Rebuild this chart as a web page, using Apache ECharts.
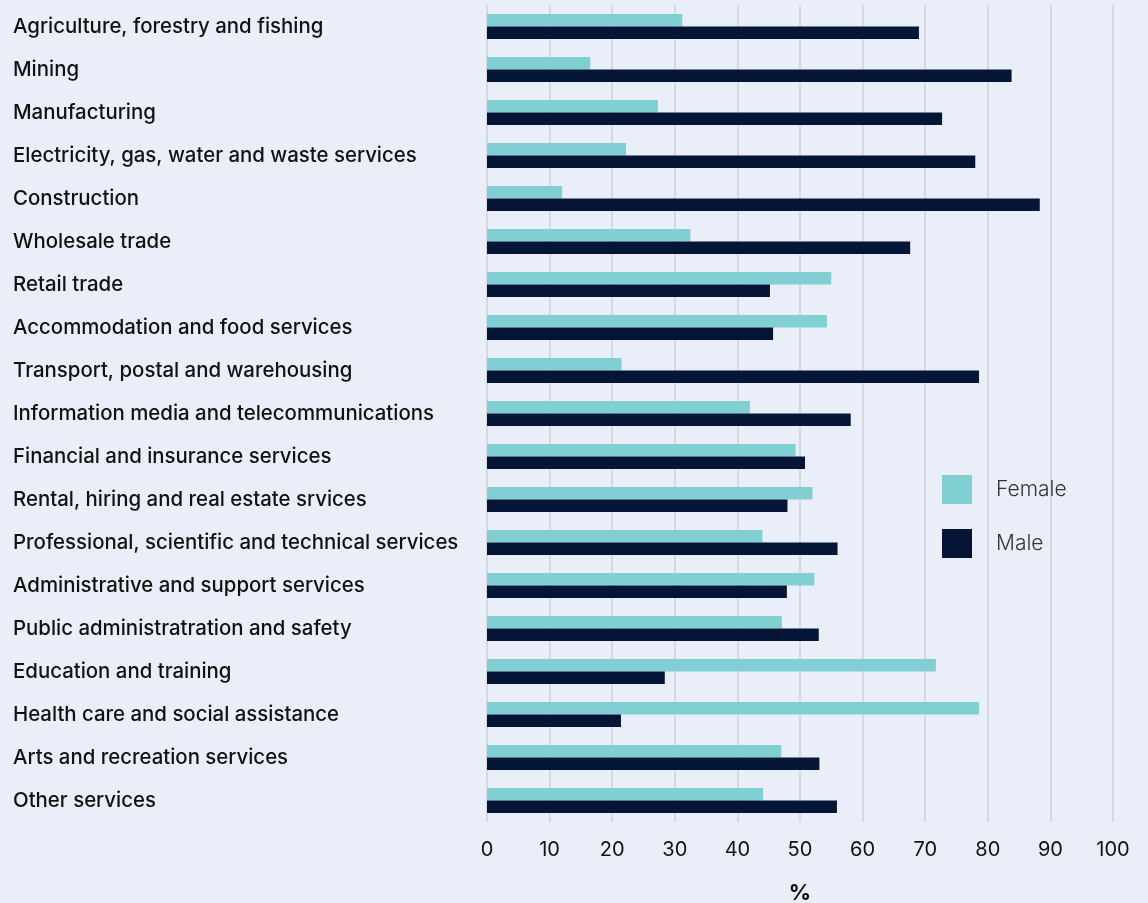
<!DOCTYPE html>
<html>
<head>
<meta charset="utf-8">
<script src="https://cdn.jsdelivr.net/npm/echarts@6/dist/echarts.min.js"></script>
<style>
html,body{margin:0;padding:0;background:#eaeef8;}
#chart{width:1148px;height:903px;}
</style>
</head>
<body>
<div id="chart"></div>
<script>
const categories = [
  "Agriculture, forestry and fishing",
  "Mining",
  "Manufacturing",
  "Electricity, gas, water and waste services",
  "Construction",
  "Wholesale trade",
  "Retail trade",
  "Accommodation and food services",
  "Transport, postal and warehousing",
  "Information media and telecommunications",
  "Financial and insurance services",
  "Rental, hiring and real estate srvices",
  "Professional, scientific and technical services",
  "Administrative and support services",
  "Public administratration and safety",
  "Education and training",
  "Health care and social assistance",
  "Arts and recreation services",
  "Other services"
];
const female = [31.2, 16.5, 27.3, 22.2, 12.0, 32.5, 55.0, 54.3, 21.5, 42.0, 49.3, 52.0, 44.0, 52.3, 47.1, 71.7, 78.6, 47.0, 44.1];
const male   = [69.0, 83.8, 72.7, 78.0, 88.3, 67.6, 45.2, 45.7, 78.6, 58.1, 50.8, 48.0, 56.0, 47.9, 53.0, 28.4, 21.4, 53.1, 55.9];
const xTicks = [0, 10, 20, 30, 40, 50, 60, 70, 80, 90, 100];

const FONT = 'Inter';
const chart = echarts.init(document.getElementById('chart'));
chart.setOption({
  backgroundColor: '#eaeef8',
  animation: false,
  grid: { left: 487, right: 35, top: 5, bottom: 81, containLabel: false, outerBoundsMode: 'none' },
  legend: {
    orient: 'vertical',
    left: 942, top: 475, padding: 0,
    itemWidth: 30, itemHeight: 29, itemGap: 25,
    icon: 'rect',
    data: ['Female', 'Male'],
    textStyle: { fontFamily: FONT, fontSize: 21, fontWeight: 300, color: '#333', padding: [0, 0, 0, 19] }
  },
  xAxis: {
    type: 'value', min: xTicks[0], max: xTicks[xTicks.length - 1], interval: 10,
    name: '%', nameLocation: 'middle', nameGap: 60,
    nameTextStyle: { fontFamily: FONT, fontSize: 22, fontWeight: 'bold', color: '#111' },
    axisLine: { show: false }, axisTick: { show: false },
    axisLabel: { fontFamily: FONT, fontSize: 20, color: '#111', margin: 18 },
    splitLine: { show: true, lineStyle: { color: '#d6d9e1', width: 2 } }
  },
  yAxis: {
    type: 'category', data: categories, inverse: true,
    axisLine: { show: false }, axisTick: { show: false },
    axisLabel: { fontFamily: FONT, fontSize: 20.4, fontWeight: 500, color: '#111', align: 'left', margin: 474, padding: [4, 0, 0, 0] }
  },
  series: [
    { name: 'Female', type: 'bar', data: female, itemStyle: { color: '#80cfd3' }, barGap: '0%', barCategoryGap: '42%' },
    { name: 'Male', type: 'bar', data: male, itemStyle: { color: '#041536' }, barGap: '0%', barCategoryGap: '42%' }
  ]
});
</script>
</body>
</html>
